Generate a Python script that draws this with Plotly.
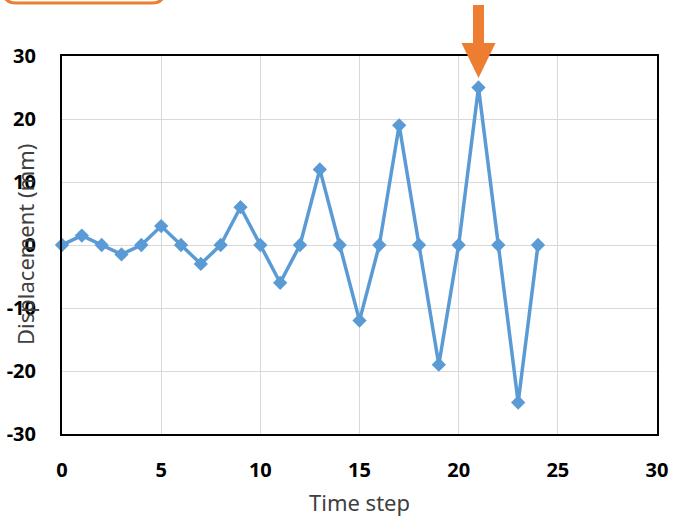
import plotly.graph_objects as go

# Displacement response per time step
time_step = list(range(0, 25))
displacement = [0, 1.5, 0, -1.5, 0, 3, 0, -3, 0, 6, 0, -6, 0, 12, 0, -12,
                0, 19, 0, -19, 0, 25, 0, -25, 0]

x_ticks = [0, 5, 10, 15, 20, 25, 30]
y_ticks = [-30, -20, -10, 0, 10, 20, 30]
peak_step = 21

W, H = 673, 521
ML, MR, MT, MB = 62, 16, 56, 87
PW, PH = W - ML - MR, H - MT - MB

BLUE = "#5B9BD5"
ORANGE = "#ED7D31"
GRID = "#D9D9D9"
FONT = "Noto Sans"


def px_x(p):
    return (p - ML) / PW


def px_y(p):
    return (H - MB - p) / PH


fig = go.Figure()
fig.add_trace(go.Scatter(
    x=time_step, y=displacement, mode="lines+markers",
    line=dict(color=BLUE, width=3.5),
    marker=dict(symbol="diamond", size=11, color=BLUE),
    showlegend=False, cliponaxis=False,
))

# Downward arrow marking the peak step
xc = peak_step / 30
sw, hw = 5.5 / PW, 17 / PW
y_top, y_head, y_tip = px_y(5), px_y(43), px_y(78)
arrow = (f"M {xc - sw} {y_top} L {xc + sw} {y_top} L {xc + sw} {y_head} "
         f"L {xc + hw} {y_head} L {xc} {y_tip} L {xc - hw} {y_head} "
         f"L {xc - sw} {y_head} Z")
shapes = [
    dict(type="path", xref="paper", yref="paper", path=arrow,
         fillcolor=ORANGE, line=dict(width=0), layer="above"),
]

# Orange rounded box edge at the top left
x0, x1 = px_x(5), px_x(163)
yb, yt = px_y(3), px_y(-20)
r = 12 / PW
ry = 8 / PH
box = (f"M {x0} {yt} L {x0} {yb + ry} Q {x0} {yb} {x0 + r} {yb} "
       f"L {x1 - r} {yb} Q {x1} {yb} {x1} {yb + ry} L {x1} {yt} Z")
shapes.append(dict(type="path", xref="paper", yref="paper", path=box,
                   fillcolor="#FFFFFF", line=dict(color=ORANGE, width=3)))

fig.update_layout(
    width=W, height=H,
    margin=dict(l=ML, r=MR, t=MT, b=MB, autoexpand=False),
    paper_bgcolor="white", plot_bgcolor="white",
    font=dict(family=FONT, color="#000000"),
    shapes=shapes,
    xaxis=dict(
        range=[0, 30], tickvals=x_ticks, ticktext=[str(v) for v in x_ticks],
        showgrid=True, gridcolor=GRID, gridwidth=1,
        showline=True, linecolor="black", linewidth=2, mirror=True,
        zeroline=False, ticks="", ticklabelstandoff=17, automargin=False,
        tickfont=dict(family=FONT, size=20, color="black", weight="bold"),
        title=dict(text="Time step", standoff=14,
                   font=dict(family=FONT, size=22, color="#404040")),
    ),
    yaxis=dict(
        range=[-30, 30], tickvals=y_ticks, ticktext=[str(v) for v in y_ticks],
        showgrid=True, gridcolor=GRID, gridwidth=1,
        showline=True, linecolor="black", linewidth=2, mirror=True,
        zeroline=False, ticks="", ticklabelstandoff=20, automargin=False,
        tickfont=dict(family=FONT, size=20, color="black", weight="bold"),
    ),
    annotations=[dict(
        text="Displacement (mm)", xref="paper", yref="paper",
        x=px_x(25), y=0.5, textangle=-90, showarrow=False,
        xanchor="center", yanchor="middle",
        font=dict(family=FONT, size=22, color="#404040"),
    )],
)

fig.write_html("out.html")
